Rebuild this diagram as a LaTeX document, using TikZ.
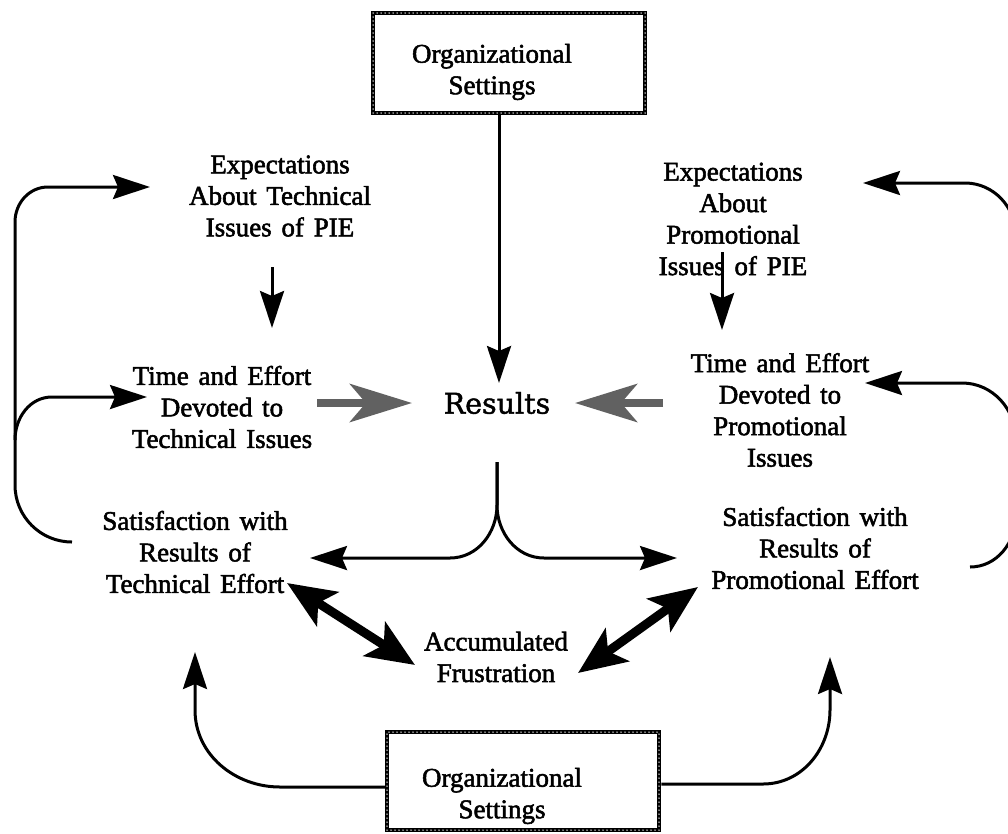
\documentclass[tikz,border=0pt]{standalone}
\usepackage{fontspec}
\setmainfont{Liberation Serif}[WordSpace=1.45, FakeBold=2]
\newfontfamily\resfont{DejaVu Serif}[FakeBold=1.5]
\usetikzlibrary{arrows.meta}

\tikzset{
  lbl/.style={align=center, inner sep=0pt,
    font=\fontsize{27}{31.5}\selectfont},
  obox/.style={draw, line width=4.5pt, inner sep=0pt,
    postaction={draw=white, line width=1.5pt, dash pattern=on 0pt off 4pt, line cap=round}},
  thinarr/.style={line width=3pt, -{Stealth[length=37pt,width=24pt,inset=5pt]}},
  fatarr/.style={line width=9pt, {Stealth[length=48pt,width=40pt,inset=11pt]}-{Stealth[length=48pt,width=40pt,inset=11pt]}},
  greyarr/.style={line width=8pt, draw=black!62, -{Stealth[length=62pt,width=38pt,inset=16pt]}},
}

\begin{document}
\begin{tikzpicture}[x=1pt,y=-1pt]
\path[use as bounding box] (0,0) rectangle (1008,833);
\clip (0,0) rectangle (1008,833);
\fill[white] (0,0) rectangle (1008,833);

% framed boxes
\node[obox, minimum width=272pt, minimum height=100pt] (top) at (509,63) {};
\node[lbl] (toptxt) at (492,72) {Organizational\\Settings};
\node[obox, minimum width=272pt, minimum height=98pt] (bot) at (523,781) {};
\node[lbl] (bottxt) at (502,796) {Organizational\\Settings};

% text nodes
\node[lbl] (expL) at (280,196) {Expectations\\About Technical\\Issues of PIE};
\node[lbl] (timeL) at (222,407) {Time and Effort\\Devoted to\\Technical Issues};
\node[lbl] (satL) at (195,552) {Satisfaction with\\Results of\\Technical Effort};
\node[lbl] (expR) at (733,219) {Expectations\\About\\Promotional\\Issues of PIE};
\node[lbl] (timeR) at (780,410) {Time and Effort\\Devoted to\\Promotional\\Issues};
\node[lbl] (satR) at (815,548) {Satisfaction with\\Results of\\Promotional Effort};
\node[lbl] (acc) at (496,657) {Accumulated\\Frustration};
\node[inner sep=0pt, font=\resfont\fontsize{28.5}{32}\selectfont] (res) at (497,403) {Results};

% loop end points
\coordinate (lTop) at (150,187);
\coordinate (lMid) at (147,397);
\coordinate (lEnd) at (72,542);
\coordinate (rTop) at (863,183);
\coordinate (rMid) at (865,383);
\coordinate (rEnd) at (970,567);
\coordinate (stem) at (497,462);
\coordinate (splitL) at (310,558);
\coordinate (splitR) at (677,558);

% settings -> results
\draw[thinarr] (top.south -| 499,0) -- (499,383);

% expectations -> time and effort
\draw[thinarr] (272,267) -- (272,328);
\draw[thinarr] (722,252) -- (722,330);

% time and effort -> results (shaded)
\draw[greyarr] (317,403) -- (412,403);
\draw[greyarr] (663,403) -- (575,403);

% results -> satisfaction
\draw[thinarr] (stem) -- (497,505) to[out=270,in=0] (450,558) -- (splitL);
\draw[thinarr] (stem) -- (497,505) to[out=270,in=180] (544,558) -- (splitR);

% feedback loop, left
\draw[thinarr] (lEnd) to[out=180,in=270] (15,485) -- (15,222) to[out=90,in=180] (48,187) -- (lTop);
\draw[thinarr] (15,440) to[out=90,in=180] (52,397) -- (lMid);

% feedback loop, right
\draw[thinarr] (rEnd) to[out=0,in=270] (1016,515) -- (1016,236) to[out=90,in=0] (965,183) -- (rTop);
\draw[thinarr] (1016,440) to[out=90,in=0] (962,383) -- (rMid);

% satisfaction <-> frustration
\draw[fatarr] (287,583) -- (415,665);
\draw[fatarr] (698,587) -- (578,673);

% settings -> satisfaction
\draw[thinarr] ([yshift=-6pt]bot.west) -- (280,787) to[out=180,in=270] (195,710) -- (195,652);
\draw[thinarr] ([yshift=-3pt]bot.east) -- (763,784) to[out=0,in=270] (830,710) -- (830,657);
\end{tikzpicture}
\end{document}
